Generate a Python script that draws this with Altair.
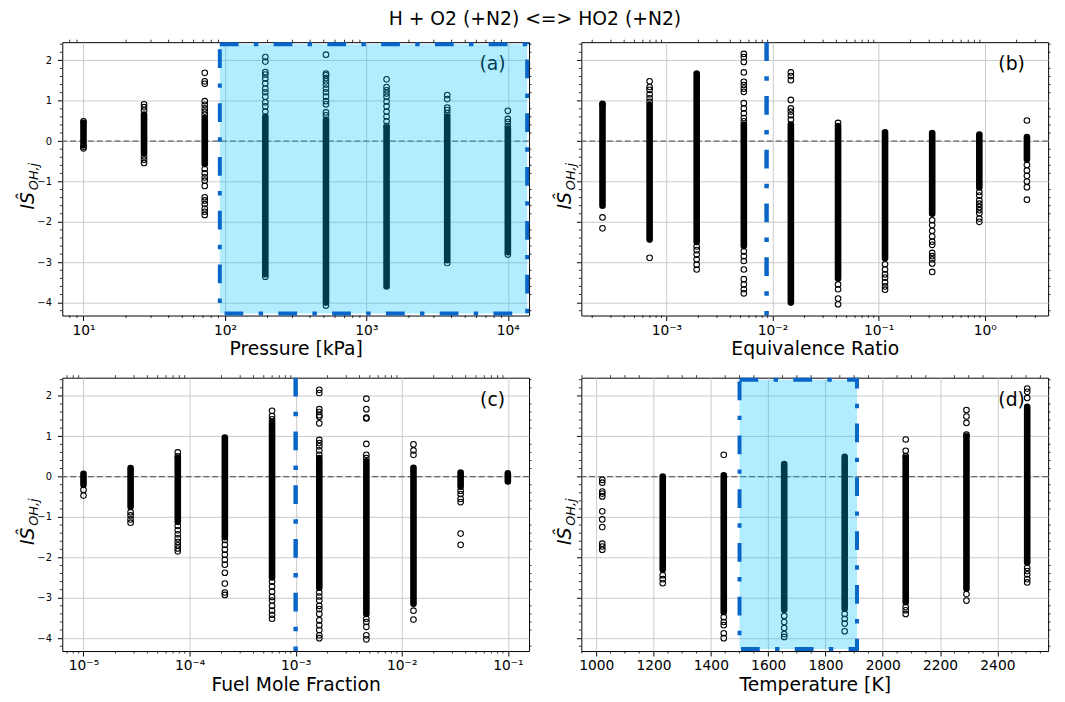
import math
import altair as alt
import pandas as pd

# ---------------- text ----------------
TITLE = "H + O2 (+N2) <=> HO2 (+N2)"
LETTERS = ["(a)", "(b)", "(c)", "(d)"]
X_TITLES = ["Pressure [kPa]", "Equivalence Ratio", "Fuel Mole Fraction", "Temperature [K]"]
Y_MAIN = "IŜ"
Y_SUB = "OH,j"
Y_MAJOR = [-4, -3, -2, -1, 0, 1, 2]

# ---------------- panel (a): pressure ----------------
A_X = [10, 26.8, 72.0, 193, 518, 1389, 3728, 10000]
A_LO = [-0.10, -0.30, -0.57, -3.30, -4.00, -3.60, -2.95, -2.75]
A_HI = [0.45, 0.66, 0.57, 0.61, 0.53, 0.33, 0.61, 0.31]
A_SPARSE = [
    [0.49, -0.14, -0.18],
    [0.91, 0.84, 0.76, -0.38, -0.46, -0.54],
    [1.69, 1.48, 1.42, 0.99, 0.90, 0.81, 0.73, 0.65, -0.69, -0.80, -0.90, -0.98,
     -1.11, -1.39, -1.47, -1.56, -1.67, -1.75, -1.83],
    [2.08, 1.97, 1.71, 1.65, 1.55, 1.43, 1.30, 1.21, 1.10, 0.96, 0.86, 0.73, -3.36],
    [2.14, 1.67, 1.63, 1.56, 1.48, 1.40, 1.30, 1.21, 1.10, 0.99, 0.91, 0.71, 0.64, -4.07],
    [1.53, 1.34, 1.26, 1.18, 1.10, 0.98, 0.86, 0.73, 0.61, 0.49, 0.37],
    [1.14, 1.04, 0.83, 0.77, 0.69, -3.02],
    [0.75, 0.55, 0.47, 0.37, -2.81],
]
A_SPAN = [92, 13700, -4.27, 2.40]
A_XDOM = [7.08, 14125]
A_XTICKS = [10, 100, 1000, 10000]

# ---------------- panel (b): equivalence ratio ----------------
B_X = [2.5e-4, 6.95e-4, 1.93e-3, 5.37e-3, 1.49e-2, 4.15e-2, 1.15e-1, 3.2e-1, 8.9e-1, 2.5]
B_LO = [-1.60, -2.44, -2.50, -2.60, -4.00, -3.40, -2.90, -1.80, -1.15, -0.45]
B_HI = [0.90, 0.90, 1.67, 0.41, 0.41, 0.37, 0.22, 0.20, 0.16, 0.10]
B_SPARSE = [
    [0.92, -1.89, -2.16],
    [1.48, 1.34, 1.27, 1.16, 1.06, 0.97, -2.89],
    [-2.61, -2.70, -2.81, -2.93, -3.06, -3.18],
    [2.16, 2.08, 1.96, 1.70, 1.47, 1.39, 1.30, 1.22, 0.94, 0.81, 0.69, 0.57, 0.49,
     -2.73, -2.85, -2.97, -3.18, -3.42, -3.55, -3.67, -3.77],
    [1.70, 1.61, 1.51, 1.02, 0.81, 0.73, 0.64, 0.53],
    [0.45, -3.55, -3.67, -3.90, -4.04],
    [-3.05, -3.18, -3.30, -3.38, -3.50, -3.60, -3.68],
    [-1.96, -2.08, -2.22, -2.36, -2.49, -2.57, -2.77, -2.85, -2.93, -3.03, -3.24],
    [-1.26, -1.35, -1.47, -1.55, -1.63, -1.71, -1.79, -1.92, -2.00],
    [0.51, -0.59, -0.73, -0.86, -1.00, -1.14, -1.45],
]
B_VLINE = 0.0088
B_XDOM = [1.58e-4, 3.96]
B_XTICKS = [1e-3, 1e-2, 1e-1, 1]

# ---------------- panel (c): fuel mole fraction ----------------
C_X = [1e-5, 2.78e-5, 7.74e-5, 2.15e-4, 5.99e-4, 1.67e-3, 4.64e-3, 1.29e-2, 3.59e-2, 1e-1]
C_LO = [-0.20, -0.75, -1.12, -1.50, -2.50, -2.75, -3.40, -3.15, -0.25, -0.12]
C_HI = [0.07, 0.21, 0.46, 0.97, 1.36, 0.46, 0.38, 0.22, 0.10, 0.08]
C_SPARSE = [
    [-0.33, -0.47],
    [-0.88, -0.96, -1.06, -1.14],
    [0.60, 0.50, -1.22, -1.33, -1.43, -1.53, -1.62, -1.70, -1.78, -1.85],
    [-1.57, -1.69, -1.81, -1.93, -2.06, -2.18, -2.38, -2.65, -2.87, -2.93],
    [1.63, 1.50, 1.42, -2.60, -2.72, -2.85, -2.98, -3.07, -3.20, -3.32, -3.42, -3.52],
    [2.15, 2.07, 1.67, 1.60, 1.52, 1.48, 1.32, 0.91, 0.83, 0.75, 0.65, 0.54,
     -2.87, -2.97, -3.07, -3.20, -3.28, -3.40, -3.56, -3.68, -3.80, -3.93, -4.00],
    [1.93, 1.67, 1.46, 1.44, 0.81, 0.54, 0.46, -3.52, -3.60, -3.72, -3.93, -4.03],
    [0.80, 0.65, 0.54, -3.32, -3.54],
    [-0.35, -0.43, -0.55, -0.63, -1.41, -1.69],
    [],
]
C_VLINE = 0.001
C_XDOM = [10 ** -5.2, 10 ** -0.8]
C_XTICKS = [1e-5, 1e-4, 1e-3, 1e-2, 1e-1]

# ---------------- panel (d): temperature ----------------
D_X = [1021, 1232, 1445, 1656, 1867, 2080, 2292, 2504]
D_LO = [None, -2.30, -3.35, -3.30, -3.27, -3.11, -2.78, -2.13]
D_HI = [None, 0.00, 0.03, 0.31, 0.49, 0.47, 1.00, 1.73]
D_SPARSE = [
    [-0.08, -0.15, -0.37, -0.42, -0.49, -0.86, -1.06, -1.25, -1.66, -1.73, -1.81],
    [-2.44, -2.54, -2.64],
    [0.54, -3.48, -3.60, -3.68, -3.88, -4.00],
    [-3.45, -3.60, -3.75, -3.90, -3.97],
    [-3.40, -3.52, -3.64, -3.83],
    [0.92, 0.64, 0.51, -3.23, -3.31, -3.40],
    [1.65, 1.49, 1.33, 1.04, -2.91, -3.07],
    [2.18, 2.10, 1.95, -2.26, -2.34, -2.42, -2.54, -2.62],
]
D_SPAN = [1500, 1910, -4.27, 2.40]
D_XDOM = [948, 2577]
D_XTICKS = [1000, 1200, 1400, 1600, 1800, 2000, 2200, 2400]

# ---------------- styling ----------------
FONT = "DejaVu Sans"
W, H = 473, 277
YDOM = [-4.32, 2.45]
BLUE = "#0866c8"
SPAN_FILL = "#00bfff"
DASHDOT = [19, 15.5, 4.5, 15.5]
LOG_LABEL = ("'10' + (datum.value < 1 ? '\u207b' : '') + "
             "['\u2070','\u00b9','\u00b2','\u00b3','\u2074','\u2075','\u2076']"
             "[abs(round(log(datum.value) / LN10))]")

yscale = alt.Scale(domain=YDOM, nice=False, zero=False)
Y_MINOR = [round(-4.2 + 0.2 * i, 1) for i in range(34)]
Y_MINOR = [v for v in Y_MINOR if abs(v - round(v)) > 1e-6 and YDOM[0] <= v <= YDOM[1]]


def log_minor(dom):
    out = []
    for e in range(math.floor(math.log10(dom[0])), math.ceil(math.log10(dom[1])) + 1):
        for k in range(2, 10):
            v = k * 10 ** e
            if dom[0] <= v <= dom[1]:
                out.append(v)
    return out


def panel(idx, xs, lo, hi, sparse, xdom, xlog, xticks, span=None, vline=None, ylabels=True):
    xscale = alt.Scale(type="log" if xlog else "linear", domain=xdom, nice=False, zero=False)
    if xlog:
        xminor = log_minor(xdom)
    else:
        xminor = [v for v in range(950, 2600, 50) if v % 200 != 0 and xdom[0] <= v <= xdom[1]]

    pts = pd.DataFrame([{"x": x, "y": v} for x, vs in zip(xs, sparse) for v in vs])
    dense = pd.DataFrame([{"x": x, "lo": a, "hi": b}
                          for x, a, b in zip(xs, lo, hi) if a is not None])

    xaxis_kw = dict(values=xticks, title=X_TITLES[idx], labelFontSize=14,
                    labelPadding=3, titlePadding=3, labelFlush=False, labelOverlap=False)
    if xlog:
        xaxis_kw["labelExpr"] = LOG_LABEL
    else:
        xaxis_kw["format"] = "d"
    xaxis = alt.Axis(**xaxis_kw)
    yaxis = alt.Axis(values=Y_MAJOR, labels=ylabels, title="", labelFontSize=10,
                     labelPadding=6)

    def X(f):
        return alt.X(f, scale=xscale, axis=xaxis, title=X_TITLES[idx])

    def Y(f):
        return alt.Y(f, scale=yscale, axis=yaxis, title="")

    layers = []
    # panel letter
    layers.append(
        alt.Chart(pd.DataFrame({"t": [LETTERS[idx]]}))
        .mark_text(font=FONT, fontSize=19, align="center", baseline="middle", color="black")
        .encode(text="t:N", x=alt.value(W - 37), y=alt.value(22.5))
    )
    # zero line
    layers.append(
        alt.Chart(pd.DataFrame({"y": [0]}))
        .mark_rule(color="#666666", strokeDash=[6, 3], strokeWidth=1.2)
        .encode(y=Y("y:Q"))
    )
    # dense runs of overlapping circles
    layers.append(
        alt.Chart(dense)
        .mark_rule(color="black", strokeWidth=6.7, strokeCap="round")
        .encode(x=X("x:Q"), y=Y("lo:Q"), y2="hi:Q")
    )
    # individual circles
    layers.append(
        alt.Chart(pts)
        .mark_point(shape="circle", filled=False, color="black", size=32,
                    strokeWidth=1.1, opacity=1)
        .encode(x=X("x:Q"), y=Y("y:Q"))
    )
    if span is not None:
        sdf = pd.DataFrame({"x0": [span[0]], "x1": [span[1]], "y0": [span[2]], "y1": [span[3]]})
        layers.append(
            alt.Chart(sdf)
            .mark_rect(fill=SPAN_FILL, fillOpacity=0.3, stroke=BLUE, strokeWidth=4,
                       strokeDash=DASHDOT)
            .encode(x=X("x0:Q"), x2="x1:Q", y=Y("y1:Q"), y2="y0:Q")
        )
    if vline is not None:
        vdf = pd.DataFrame({"x": [vline], "y0": [YDOM[1]], "y1": [YDOM[0]]})
        layers.append(
            alt.Chart(vdf)
            .mark_rule(color=BLUE, strokeWidth=4.5, strokeDash=DASHDOT)
            .encode(x=X("x:Q"), y=Y("y0:Q"), y2="y1:Q")
        )
    # minor ticks on the four sides
    ym = pd.DataFrame({"v": Y_MINOR})
    xm = pd.DataFrame({"v": xminor})
    tick = dict(color="black", strokeWidth=0.8)
    layers.append(alt.Chart(ym).mark_rule(**tick).encode(
        y=Y("v:Q"), x=alt.value(0), x2=alt.value(-2.5)))
    layers.append(alt.Chart(ym).mark_rule(**tick).encode(
        y=Y("v:Q"), x=alt.value(W), x2=alt.value(W + 2.5)))
    layers.append(alt.Chart(xm).mark_rule(**tick).encode(
        x=X("v:Q"), y=alt.value(H), y2=alt.value(H + 2.5)))
    layers.append(alt.Chart(xm).mark_rule(**tick).encode(
        x=X("v:Q"), y=alt.value(0), y2=alt.value(-2.5)))
    # y label (math-like: IŜ with subscript OH,j)
    lx = -35 if ylabels else -16
    layers.append(
        alt.Chart(pd.DataFrame({"t": [Y_MAIN]}))
        .mark_text(font=FONT, fontSize=19, fontStyle="italic", angle=270, align="right",
                   baseline="middle", color="black")
        .encode(text="t:N", x=alt.value(lx), y=alt.value(152))
    )
    layers.append(
        alt.Chart(pd.DataFrame({"t": [Y_SUB]}))
        .mark_text(font=FONT, fontSize=13, fontStyle="italic", angle=270, align="left",
                   baseline="middle", color="black")
        .encode(text="t:N", x=alt.value(lx + 6), y=alt.value(150))
    )
    return alt.layer(*layers).properties(width=W, height=H)


pa = panel(0, A_X, A_LO, A_HI, A_SPARSE, A_XDOM, True, A_XTICKS, span=A_SPAN)
pb = panel(1, B_X, B_LO, B_HI, B_SPARSE, B_XDOM, True, B_XTICKS, vline=B_VLINE, ylabels=False)
pc = panel(2, C_X, C_LO, C_HI, C_SPARSE, C_XDOM, True, C_XTICKS, vline=C_VLINE)
pd_ = panel(3, D_X, D_LO, D_HI, D_SPARSE, D_XDOM, False, D_XTICKS, span=D_SPAN, ylabels=False)

chart = (
    alt.concat(pa, pb, pc, pd_, columns=2, spacing={"row": 63, "column": 53}, bounds="flush",
               title=alt.TitleParams(TITLE, font=FONT, fontSize=19, fontWeight="normal",
                                     color="black", anchor="middle", offset=10, dx=0))
    .configure_view(stroke="black", strokeWidth=1)
    .configure_axis(labelFont=FONT, titleFont=FONT, titleFontSize=19, titleFontWeight="normal",
                    labelColor="black", titleColor="black", tickColor="black", tickSize=5,
                    tickWidth=1, domain=False, grid=True, gridColor="#c4c4c4", gridWidth=0.9)
    .properties(padding={"left": 10, "top": -3, "right": 5, "bottom": 2}, background="white")
)

chart.save("out.html", embed_options={"renderer": "svg", "actions": False})
